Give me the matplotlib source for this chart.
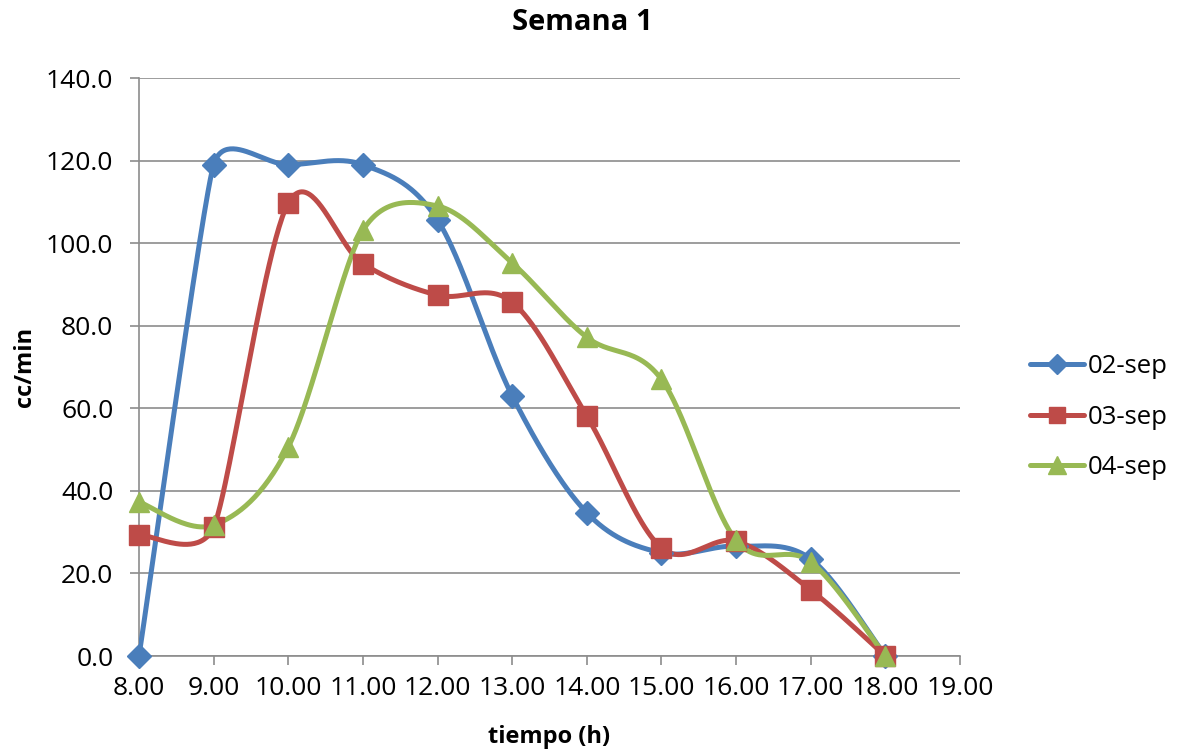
import numpy as np
import matplotlib
matplotlib.use("Agg")
import matplotlib.pyplot as plt
from matplotlib.lines import Line2D

hours = [8, 9, 10, 11, 12, 13, 14, 15, 16, 17, 18]
sep02 = [0.0, 119.0, 119.0, 119.0, 105.6, 63.0, 34.7, 25.0, 26.6, 23.5, 0.0]
sep03 = [29.3, 31.2, 109.7, 95.0, 87.4, 85.7, 58.1, 26.2, 27.8, 16.0, 0.0]
sep04 = [37.3, 31.7, 50.6, 103.1, 109.0, 95.2, 77.2, 67.0, 28.0, 22.8, 0.0]
series_names = ["02-sep", "03-sep", "04-sep"]
x_ticks = [8, 9, 10, 11, 12, 13, 14, 15, 16, 17, 18, 19]
y_ticks = [0, 20, 40, 60, 80, 100, 120, 140]

colors = ["#4A7EBB", "#BE4B48", "#98B954"]
markers = ["D", "s", "^"]
msizes = [12.5, 14, 14.5]

plt.rcParams['font.family'] = ['Open Sans', 'DejaVu Sans']

W, H = 1179, 751
fig = plt.figure(figsize=(W / 100, H / 100), dpi=100)
L, R, T, B = 139, 960, 78, 656
ax = fig.add_axes([L / W, 1 - B / H, (R - L) / W, (B - T) / H])
ax.set_xlim(8, 19)
ax.set_ylim(0, 140)


def smooth(xs, ys, n=50):
    """Excel-like smoothed line: Bezier segments with tangent arms
    limited to min(|P[i+1]-P[i-1]|/6, half of adjacent segments)."""
    pts = ax.transData.transform(np.column_stack([xs, ys]))
    m = len(pts)
    arms = []
    for i in range(m):
        prv = pts[i - 1] if i > 0 else pts[i]
        nxt = pts[i + 1] if i < m - 1 else pts[i]
        d = nxt - prv
        dn = np.linalg.norm(d)
        u = d / dn if dn > 0 else np.zeros(2)
        cands = [dn / 6]
        if i > 0:
            cands.append(np.linalg.norm(pts[i] - prv) / 2)
        if i < m - 1:
            cands.append(np.linalg.norm(nxt - pts[i]) / 2)
        arms.append(u * min(cands))
    out = [pts[0]]
    for i in range(m - 1):
        p1, p2 = pts[i], pts[i + 1]
        c1 = p1 + arms[i]
        c2 = p2 - arms[i + 1]
        t = np.linspace(0, 1, n)[1:, None]
        curve = ((1 - t) ** 3) * p1 + 3 * ((1 - t) ** 2) * t * c1 + 3 * (1 - t) * t ** 2 * c2 + t ** 3 * p2
        out.extend(curve)
    return ax.transData.inverted().transform(np.array(out))


handles = []
for ys, c, mk, ms, name in zip([sep02, sep03, sep04], colors, markers, msizes, series_names):
    cv = smooth(hours, ys)
    ax.plot(cv[:, 0], cv[:, 1], color=c, lw=3.6, solid_capstyle='round', zorder=3)
    ax.plot(hours, ys, linestyle='none', marker=mk, ms=ms, color=c, mec=c, zorder=4, clip_on=False)
    handles.append(Line2D([0], [0], color=c, lw=3.6, marker=mk, ms=ms * 0.85, mec=c, solid_capstyle='round'))

ax.set_xticks(x_ticks)
ax.set_xticklabels([f"{v:.2f}" for v in x_ticks])
ax.set_yticks(y_ticks)
ax.set_yticklabels([f"{v:.1f}" for v in y_ticks])
ax.yaxis.grid(True, color="#8C8C8C", lw=1.2)
ax.set_axisbelow(True)
for s in ["top", "right"]:
    ax.spines[s].set_visible(False)
for s in ["left", "bottom"]:
    ax.spines[s].set_color("#8C8C8C")
    ax.spines[s].set_linewidth(1.2)
ax.tick_params(axis='both', direction='out', length=6.5, width=1.2, color="#8C8C8C",
               labelsize=19, labelcolor='black')
ax.tick_params(axis='y', pad=12)
ax.tick_params(axis='x', pad=8)

fig.text(582 / W, 1 - 23 / H, "Semana 1", fontsize=21, fontweight='bold', ha='center', va='center')
fig.text((L + R) / 2 / W, 1 - 737 / H, "tiempo (h)", fontsize=17, fontweight='bold', ha='center', va='center')
fig.text(25 / W, 1 - (T + B) / 2 / H, "cc/min", fontsize=17, fontweight='bold', ha='center', va='center',
         rotation=90)

fig.legend(handles, series_names, loc='center left', bbox_to_anchor=(1030 / W, 1 - 417 / H),
           frameon=False, fontsize=18.5, handlelength=2.1, handletextpad=0.15, labelspacing=0.98,
           borderaxespad=0, borderpad=0)

fig.savefig("out.png", dpi=100)
